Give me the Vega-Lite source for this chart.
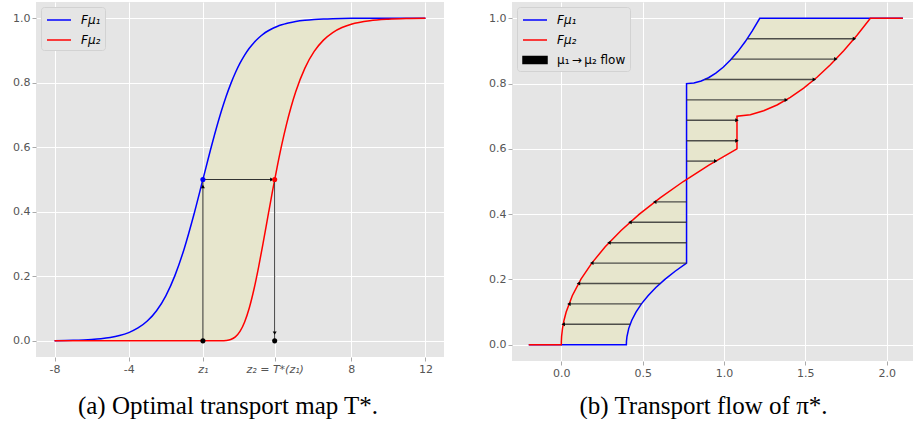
{
  "$schema": "https://vega.github.io/schema/vega-lite/v6.json",
  "background": "white",
  "padding": {"left": 0, "top": 2, "right": 0, "bottom": 0},
  "spacing": 32,
  "datasets": {
    "L": [
      {"x": -8, "b": 0.0007, "r": 0}, {"x": -7, "b": 0.0017, "r": 0}, {"x": -6, "b": 0.0043, "r": 0},
      {"x": -5.5, "b": 0.0067, "r": 0}, {"x": -5, "b": 0.0105, "r": 0}, {"x": -4.5, "b": 0.0165, "r": 0},
      {"x": -4, "b": 0.0257, "r": 0}, {"x": -3.5, "b": 0.0399, "r": 0}, {"x": -3, "b": 0.0614, "r": 0},
      {"x": -2.5, "b": 0.0934, "r": 0}, {"x": -2, "b": 0.1397, "r": 0}, {"x": -1.5, "b": 0.2037, "r": 0},
      {"x": -1, "b": 0.2872, "r": 0}, {"x": -0.5, "b": 0.3883, "r": 0}, {"x": 0, "b": 0.5, "r": 0},
      {"x": 0.5, "b": 0.6117, "r": 0}, {"x": 1, "b": 0.7128, "r": 0.0002}, {"x": 1.25, "b": 0.7570, "r": 0.0012},
      {"x": 1.5, "b": 0.7963, "r": 0.0043}, {"x": 1.75, "b": 0.8307, "r": 0.0125}, {"x": 2, "b": 0.8603, "r": 0.0294},
      {"x": 2.25, "b": 0.8854, "r": 0.0585}, {"x": 2.5, "b": 0.9066, "r": 0.1019}, {"x": 2.75, "b": 0.9241, "r": 0.1591},
      {"x": 3, "b": 0.9386, "r": 0.2279}, {"x": 3.25, "b": 0.9505, "r": 0.3042}, {"x": 3.5, "b": 0.9601, "r": 0.3839},
      {"x": 3.75, "b": 0.9680, "r": 0.4630}, {"x": 4, "b": 0.9743, "r": 0.5379}, {"x": 4.25, "b": 0.9794, "r": 0.6073},
      {"x": 4.5, "b": 0.9836, "r": 0.6694}, {"x": 4.75, "b": 0.9868, "r": 0.7240}, {"x": 5, "b": 0.9895, "r": 0.7712},
      {"x": 5.5, "b": 0.9933, "r": 0.8452}, {"x": 6, "b": 0.9957, "r": 0.8968}, {"x": 6.5, "b": 0.9973, "r": 0.9319},
      {"x": 7, "b": 0.9983, "r": 0.9554}, {"x": 7.5, "b": 0.9989, "r": 0.9709}, {"x": 8, "b": 0.9993, "r": 0.9811},
      {"x": 9, "b": 0.9997, "r": 0.9920}, {"x": 10, "b": 0.9999, "r": 0.9966}, {"x": 11, "b": 1.0, "r": 0.9986},
      {"x": 12, "b": 1.0, "r": 0.9994}
    ],
    "LA": [
      {"x": 0, "y": 0, "x2": 0, "y2": 0.5},
      {"x": 0, "y": 0.5, "x2": 3.87, "y2": 0.5},
      {"x": 3.87, "y": 0.5, "x2": 3.87, "y2": 0}
    ],
    "LH": [
      {"x": 0, "y": 0.478, "s": "up"},
      {"x": 3.72, "y": 0.5, "s": "right"},
      {"x": 3.87, "y": 0.024, "s": "down"}
    ],
    "LD": [
      {"x": 0, "y": 0, "c": "black"},
      {"x": 3.87, "y": 0, "c": "black"},
      {"x": 0, "y": 0.5, "c": "blue"},
      {"x": 3.87, "y": 0.5, "c": "red"}
    ],
    "RC": [
      {"s": "b", "i": 0, "x": -0.2, "y": 0}, {"s": "b", "i": 1, "x": 0.4, "y": 0},
      {"s": "b", "i": 2, "x": 0.4006, "y": 0.01}, {"s": "b", "i": 3, "x": 0.4037, "y": 0.025},
      {"s": "b", "i": 4, "x": 0.4148, "y": 0.05}, {"s": "b", "i": 5, "x": 0.4333, "y": 0.075},
      {"s": "b", "i": 6, "x": 0.4592, "y": 0.1}, {"s": "b", "i": 7, "x": 0.4925, "y": 0.125},
      {"s": "b", "i": 8, "x": 0.5332, "y": 0.15}, {"s": "b", "i": 9, "x": 0.5813, "y": 0.175},
      {"s": "b", "i": 10, "x": 0.6368, "y": 0.2}, {"s": "b", "i": 11, "x": 0.6997, "y": 0.225},
      {"s": "b", "i": 12, "x": 0.77, "y": 0.25}, {"s": "b", "i": 13, "x": 0.77, "y": 0.8},
      {"s": "b", "i": 14, "x": 0.815, "y": 0.802}, {"s": "b", "i": 15, "x": 0.86, "y": 0.808},
      {"s": "b", "i": 16, "x": 0.905, "y": 0.818}, {"s": "b", "i": 17, "x": 0.95, "y": 0.832},
      {"s": "b", "i": 18, "x": 0.995, "y": 0.85}, {"s": "b", "i": 19, "x": 1.04, "y": 0.872},
      {"s": "b", "i": 20, "x": 1.085, "y": 0.898}, {"s": "b", "i": 21, "x": 1.13, "y": 0.928},
      {"s": "b", "i": 22, "x": 1.175, "y": 0.962}, {"s": "b", "i": 23, "x": 1.22, "y": 1.0},
      {"s": "b", "i": 24, "x": 2.1, "y": 1.0},
      {"s": "r", "i": 0, "x": -0.2, "y": 0}, {"s": "r", "i": 1, "x": 0, "y": 0},
      {"s": "r", "i": 2, "x": 0.0003, "y": 0.01}, {"s": "r", "i": 3, "x": 0.0019, "y": 0.025},
      {"s": "r", "i": 4, "x": 0.0075, "y": 0.05}, {"s": "r", "i": 5, "x": 0.0169, "y": 0.075},
      {"s": "r", "i": 6, "x": 0.03, "y": 0.1}, {"s": "r", "i": 7, "x": 0.0675, "y": 0.15},
      {"s": "r", "i": 8, "x": 0.12, "y": 0.2}, {"s": "r", "i": 9, "x": 0.1875, "y": 0.25},
      {"s": "r", "i": 10, "x": 0.27, "y": 0.3}, {"s": "r", "i": 11, "x": 0.3675, "y": 0.35},
      {"s": "r", "i": 12, "x": 0.48, "y": 0.4}, {"s": "r", "i": 13, "x": 0.6075, "y": 0.45},
      {"s": "r", "i": 14, "x": 0.75, "y": 0.5}, {"s": "r", "i": 15, "x": 0.9075, "y": 0.55},
      {"s": "r", "i": 16, "x": 1.08, "y": 0.6}, {"s": "r", "i": 17, "x": 1.08, "y": 0.7},
      {"s": "r", "i": 18, "x": 1.162, "y": 0.7048}, {"s": "r", "i": 19, "x": 1.244, "y": 0.7166},
      {"s": "r", "i": 20, "x": 1.326, "y": 0.7344}, {"s": "r", "i": 21, "x": 1.408, "y": 0.7576},
      {"s": "r", "i": 22, "x": 1.49, "y": 0.7862}, {"s": "r", "i": 23, "x": 1.572, "y": 0.8195},
      {"s": "r", "i": 24, "x": 1.654, "y": 0.8579}, {"s": "r", "i": 25, "x": 1.736, "y": 0.9008},
      {"s": "r", "i": 26, "x": 1.818, "y": 0.9481}, {"s": "r", "i": 27, "x": 1.9, "y": 1.0},
      {"s": "r", "i": 28, "x": 2.1, "y": 1.0}
    ],
    "RF": [
      {"y": 0, "xb": 0.4, "xr": 0}, {"y": 0.025, "xb": 0.4037, "xr": 0.0019},
      {"y": 0.05, "xb": 0.4148, "xr": 0.0075}, {"y": 0.075, "xb": 0.4333, "xr": 0.0169},
      {"y": 0.1, "xb": 0.4592, "xr": 0.03}, {"y": 0.125, "xb": 0.4925, "xr": 0.0469},
      {"y": 0.15, "xb": 0.5332, "xr": 0.0675}, {"y": 0.175, "xb": 0.5813, "xr": 0.0919},
      {"y": 0.2, "xb": 0.6368, "xr": 0.12}, {"y": 0.225, "xb": 0.6997, "xr": 0.1519},
      {"y": 0.25, "xb": 0.77, "xr": 0.1875}, {"y": 0.3, "xb": 0.77, "xr": 0.27},
      {"y": 0.35, "xb": 0.77, "xr": 0.3675}, {"y": 0.4, "xb": 0.77, "xr": 0.48},
      {"y": 0.45, "xb": 0.77, "xr": 0.6075}, {"y": 0.5, "xb": 0.77, "xr": 0.75},
      {"y": 0.55, "xb": 0.77, "xr": 0.9075}, {"y": 0.6, "xb": 0.77, "xr": 1.08},
      {"y": 0.7, "xb": 0.77, "xr": 1.08}, {"y": 0.7048, "xb": 0.77, "xr": 1.162},
      {"y": 0.7166, "xb": 0.77, "xr": 1.244}, {"y": 0.7344, "xb": 0.77, "xr": 1.326},
      {"y": 0.7576, "xb": 0.77, "xr": 1.408}, {"y": 0.7862, "xb": 0.77, "xr": 1.49},
      {"y": 0.8, "xb": 0.77, "xr": 1.5254}, {"y": 0.802, "xb": 0.815, "xr": 1.5303},
      {"y": 0.808, "xb": 0.86, "xr": 1.5449}, {"y": 0.818, "xb": 0.905, "xr": 1.5682},
      {"y": 0.832, "xb": 0.95, "xr": 1.6}, {"y": 0.85, "xb": 0.995, "xr": 1.638},
      {"y": 0.872, "xb": 1.04, "xr": 1.682}, {"y": 0.898, "xb": 1.085, "xr": 1.7309},
      {"y": 0.928, "xb": 1.13, "xr": 1.784}, {"y": 0.962, "xb": 1.175, "xr": 1.8406},
      {"y": 1.0, "xb": 1.22, "xr": 1.9}
    ],
    "RA": [
      {"y": 0.0625, "xs": 0.4231, "xe": 0.0117, "d": "left"},
      {"y": 0.125, "xs": 0.4925, "xe": 0.0469, "d": "left"},
      {"y": 0.1875, "xs": 0.6081, "xe": 0.1055, "d": "left"},
      {"y": 0.25, "xs": 0.77, "xe": 0.1875, "d": "left"},
      {"y": 0.3125, "xs": 0.77, "xe": 0.293, "d": "left"},
      {"y": 0.375, "xs": 0.77, "xe": 0.4219, "d": "left"},
      {"y": 0.4375, "xs": 0.77, "xe": 0.5742, "d": "left"},
      {"y": 0.5625, "xs": 0.77, "xe": 0.9492, "d": "right"},
      {"y": 0.625, "xs": 0.77, "xe": 1.08, "d": "right"},
      {"y": 0.6875, "xs": 0.77, "xe": 1.08, "d": "right"},
      {"y": 0.75, "xs": 0.77, "xe": 1.383, "d": "right"},
      {"y": 0.8125, "xs": 0.8825, "xe": 1.5555, "d": "right"},
      {"y": 0.875, "xs": 1.0456, "xe": 1.6878, "d": "right"},
      {"y": 0.9375, "xs": 1.1431, "xe": 1.8022, "d": "right"}
    ]
  },
  "resolve": {
    "scale": {"color": "independent", "shape": "independent", "fill": "independent", "x": "independent", "y": "independent"},
    "legend": {"color": "independent"}
  },
  "hconcat": [
    {
      "width": 408,
      "height": 355,
      "title": {"text": "(a) Optimal transport map T*.", "dx": -12, "offset": 20},
      "layer": [
        {
          "data": {"name": "L"},
          "mark": {"type": "area", "color": "#e7e6cd", "interpolate": "monotone"},
          "encoding": {
            "x": {"field": "x", "type": "quantitative", "title": null,
                  "scale": {"domain": [-9, 13], "nice": false, "zero": false},
                  "axis": {"values": [-8, -4, 0, 3.87, 8, 12], "labelOverlap": false, "labelFlush": false,
                           "labelExpr": "datum.value == 0 ? 'z₁' : (datum.value > 3.8 && datum.value < 3.9 ? 'z₂ = T*(z₁)' : '' + datum.value)",
                           "labelFontStyle": {"condition": {"test": "datum.value > -1 && datum.value < 5", "value": "italic"}, "value": "normal"}}},
            "y": {"field": "b", "type": "quantitative", "title": null,
                  "scale": {"domain": [-0.05, 1.05], "nice": false, "zero": false},
                  "axis": {"values": [0, 0.2, 0.4, 0.6, 0.8, 1.0], "format": ".1f", "minExtent": 36, "maxExtent": 36}},
            "y2": {"field": "r"}
          }
        },
        {
          "data": {"name": "L"},
          "transform": [{"fold": ["b", "r"], "as": ["s", "v"]}],
          "mark": {"type": "line", "strokeWidth": 1.5, "interpolate": "monotone"},
          "encoding": {
            "x": {"field": "x", "type": "quantitative", "title": null},
            "y": {"field": "v", "type": "quantitative", "title": null},
            "color": {"field": "s", "type": "nominal",
                      "scale": {"domain": ["b", "r"], "range": ["#0000ff", "#ff0000"]},
                      "legend": {"labelExpr": "datum.value == 'b' ? 'Fμ₁' : 'Fμ₂'", "labelFontStyle": "italic"}}
          }
        },
        {
          "data": {"name": "LA"},
          "mark": {"type": "rule", "color": "#333333", "strokeWidth": 1},
          "encoding": {
            "x": {"field": "x", "type": "quantitative", "title": null},
            "y": {"field": "y", "type": "quantitative", "title": null},
            "x2": {"field": "x2"},
            "y2": {"field": "y2"}
          }
        },
        {
          "data": {"name": "LH"},
          "mark": {"type": "point", "filled": true, "color": "#000000", "opacity": 1, "size": 16},
          "encoding": {
            "x": {"field": "x", "type": "quantitative", "title": null},
            "y": {"field": "y", "type": "quantitative", "title": null},
            "shape": {"field": "s", "type": "nominal", "legend": null,
                      "scale": {"domain": ["up", "right", "down", "left"], "range": ["triangle-up", "triangle-right", "triangle-down", "triangle-left"]}}
          }
        },
        {
          "data": {"name": "LD"},
          "mark": {"type": "point", "filled": true, "opacity": 1, "size": 26, "shape": "circle"},
          "encoding": {
            "x": {"field": "x", "type": "quantitative", "title": null},
            "y": {"field": "y", "type": "quantitative", "title": null},
            "fill": {"field": "c", "type": "nominal", "scale": null, "legend": null}
          }
        }
      ]
    },
    {
      "width": 401,
      "height": 359,
      "title": {"text": "(b) Transport flow of π*.", "dx": -9, "offset": 16},
      "layer": [
        {
          "data": {"name": "RF"},
          "mark": {"type": "area", "orient": "horizontal", "color": "#e7e6cd"},
          "encoding": {
            "y": {"field": "y", "type": "quantitative", "title": null,
                  "scale": {"domain": [-0.05, 1.05], "nice": false, "zero": false},
                  "axis": {"values": [0, 0.2, 0.4, 0.6, 0.8, 1.0], "format": ".1f", "minExtent": 36, "maxExtent": 36}},
            "x": {"field": "xb", "type": "quantitative", "title": null,
                  "scale": {"domain": [-0.303, 2.162], "nice": false, "zero": false},
                  "axis": {"values": [0, 0.5, 1, 1.5, 2], "format": ".1f", "labelFlush": false, "labelOverlap": false}},
            "x2": {"field": "xr"}
          }
        },
        {
          "data": {"name": "RC"},
          "mark": {"type": "line", "strokeWidth": 1.5},
          "encoding": {
            "x": {"field": "x", "type": "quantitative", "title": null},
            "y": {"field": "y", "type": "quantitative", "title": null},
            "order": {"field": "i", "type": "quantitative"},
            "color": {"field": "s", "type": "nominal",
                      "scale": {"domain": ["b", "r", "flow"], "range": ["#0000ff", "#ff0000", "#000000"]},
                      "legend": {"labelExpr": "datum.value == 'b' ? 'Fμ₁' : (datum.value == 'r' ? 'Fμ₂' : 'μ₁\u2009→\u2009μ₂ flow')",
                                 "encode": {
                                   "symbols": {"update": {
                                     "shape": {"signal": "datum.value == 'flow' ? 'M-1.5,-0.45H1.5V0.45H-1.5Z' : 'M-1.5,0H1.5'"},
                                     "fill": {"signal": "datum.value == 'flow' ? '#000000' : 'transparent'"}}},
                                   "labels": {"update": {
                                     "fontStyle": {"signal": "datum.value == 'flow' ? 'normal' : 'italic'"}}}
                                 }}}
          }
        },
        {
          "data": {"name": "RA"},
          "mark": {"type": "rule", "color": "#333333", "strokeWidth": 1.4, "opacity": 0.85},
          "encoding": {
            "y": {"field": "y", "type": "quantitative", "title": null},
            "x": {"field": "xs", "type": "quantitative", "title": null},
            "x2": {"field": "xe"}
          }
        },
        {
          "data": {"name": "RA"},
          "mark": {"type": "point", "filled": true, "color": "#000000", "opacity": 1, "size": 16},
          "encoding": {
            "y": {"field": "y", "type": "quantitative", "title": null},
            "x": {"field": "xe", "type": "quantitative", "title": null},
            "shape": {"field": "d", "type": "nominal", "legend": null,
                      "scale": {"domain": ["up", "right", "down", "left"], "range": ["triangle-up", "triangle-right", "triangle-down", "triangle-left"]}}
          }
        }
      ]
    }
  ],
  "config": {
    "view": {"fill": "#e5e5e5", "stroke": null},
    "axis": {
      "grid": true, "gridColor": "#ffffff", "gridWidth": 1, "domain": false,
      "tickColor": "#aaaaaa", "tickSize": 4, "tickWidth": 1,
      "labelColor": "#555555", "labelFont": "DejaVu Sans", "labelFontSize": 11, "labelPadding": 2
    },
    "legend": {
      "orient": "top-left", "offset": 5, "title": null,
      "fillColor": "#e5e5e5", "strokeColor": "#d2d2d2", "cornerRadius": 3, "padding": 4,
      "symbolType": "M-1.5,0H1.5", "symbolSize": 256, "symbolStrokeWidth": 1.5, "symbolOffset": 5,
      "labelOffset": 13, "rowPadding": 5,
      "labelFont": "DejaVu Sans", "labelFontSize": 12, "labelColor": "#000000"
    },
    "title": {
      "orient": "bottom", "anchor": "middle", "font": "Liberation Serif", "fontSize": 25,
      "fontWeight": "normal", "color": "#000000"
    }
  }
}
